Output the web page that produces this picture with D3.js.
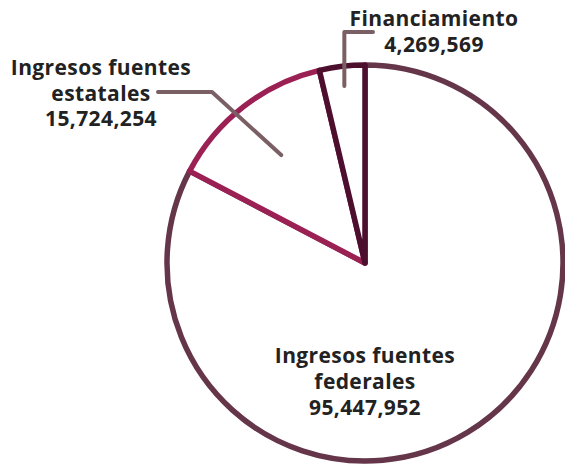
<!DOCTYPE html>
<html lang="en">
<head>
  <title>Ingresos</title>
  <script src="https://cdn.jsdelivr.net/npm/d3@7"></script>
  <style>
    body { margin: 0; background: #fff; }
    text { font-family: "Open Sans", sans-serif; font-weight: 700; fill: #222; }
  </style>
</head>
<body>
  <script>
    let width = 565, height = 465;
    let cx = 365, cy = 263, radius = 198;

    // data
    let names = [["Ingresos fuentes", "federales"], ["Ingresos fuentes", "estatales"], ["Financiamiento"]];
    let values = [95447952, 15724254, 4269569];
    let strokes = ["#65364a", "#9b2154", "#4c0f2e"];

    let data = values.map((v, i) => ({ name: names[i], value: v, color: strokes[i] }));
    let fmt = d3.format(",");

    let svg = d3.select("body").append("svg")
      .attr("width", width)
      .attr("height", height);

    let g = svg.append("g")
      .attr("transform", `translate(${cx}, ${cy})`);

    let pie = d3.pie().value(d => d.value).sort(null);
    let arc = d3.arc().innerRadius(0).outerRadius(radius);
    let arcs = pie(data);

    // slices, white fill with coloured outline
    g.selectAll(".slice").data(arcs).join("path")
      .attr("class", "slice")
      .attr("d", arc)
      .attr("fill", "#fff")
      .attr("stroke", d => d.data.color)
      .attr("stroke-width", 5.5)
      .attr("stroke-linejoin", "round");

    // leader lines for the two small slices
    let leader = "#7a5f64";
    function pointAt(a, r) {
      let ang = (a.startAngle + a.endAngle) / 2;
      return [cx + r * Math.sin(ang), cy - r * Math.cos(ang)];
    }
    let pEst = pointAt(arcs[1], radius * 0.69);
    svg.append("polyline")
      .attr("points", [[158, 92], [212, 92], pEst].map(p => p.join(",")).join(" "))
      .attr("fill", "none").attr("stroke", leader)
      .attr("stroke-width", 4).attr("stroke-linecap", "round").attr("stroke-linejoin", "round");

    let pFin = pointAt(arcs[2], radius * 0.9);
    svg.append("polyline")
      .attr("points", [[373, 32], [pFin[0], 32], pFin].map(p => p.join(",")).join(" "))
      .attr("fill", "none").attr("stroke", leader)
      .attr("stroke-width", 4).attr("stroke-linecap", "round").attr("stroke-linejoin", "round");

    // labels
    let labelPos = [
      { x: 365, y: 363, step: 26 },
      { x: 101, y: 75, step: 25.5 },
      { x: 434, y: 26, step: 25.5 }
    ];
    data.forEach((d, i) => {
      let lines = d.name.concat([fmt(d.value)]);
      let t = svg.append("text")
        .attr("text-anchor", "middle")
        .attr("font-size", 21)
        .attr("letter-spacing", 0.4);
      lines.forEach((l, j) => {
        t.append("tspan")
          .attr("x", labelPos[i].x)
          .attr("y", labelPos[i].y + j * labelPos[i].step)
          .text(l);
      });
    });
  </script>
</body>
</html>
